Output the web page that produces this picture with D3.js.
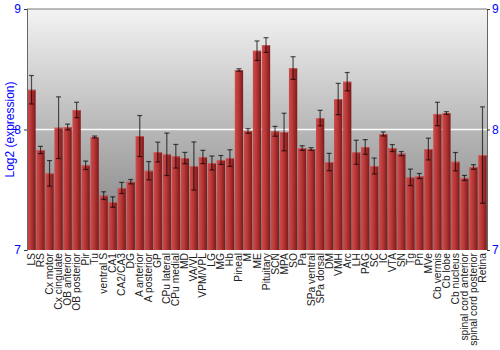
<!DOCTYPE html>
<html>
<head>
<meta charset="utf-8">
<script src="https://cdn.jsdelivr.net/npm/d3@7"></script>
<style>
  body { margin: 0; background: #fff; }
  svg { font-family: "Liberation Sans", Arial, sans-serif; }
</style>
</head>
<body>
<div id="chart"></div>
<script>
// tissues along the x axis
const tissues = ["LS", "RS", "Cx motor", "Cx cingulate", "OB anterior", "OB posterior", "Pir", "Tu",
    "ventral S", "CA1", "CA2/CA3", "DG", "A anterior", "A posterior", "GP", "CPu lateral", "CPu medial",
    "MD", "VA/VL", "VPM/VPL", "LG", "MG", "Hb", "Pineal", "M", "ME", "Pituitary", "SCN", "MPA", "SO",
    "Pa", "SPa ventral", "SPa dorsal", "DM", "VMH", "Arc", "LH", "PAG", "SC", "IC", "VTA", "SN", "Tg",
    "Pn", "MVe", "Cb vermis", "Cb lobe", "Cb nucleus", "spinal cord anterior", "spinal cord posterior", "Retina"];

// mean log2 expression
const expression = [8.33, 7.83, 7.636, 8.015, 8.021, 8.162, 7.703, 7.938,
    7.451, 7.398, 7.515, 7.567, 7.946, 7.658, 7.813, 7.794, 7.778,
    7.763, 7.697, 7.772, 7.722, 7.747, 7.763, 8.494, 7.988, 8.654, 8.701, 7.985, 7.979, 8.51,
    7.846, 7.838, 8.095, 7.73, 8.253, 8.397, 7.811, 7.855, 7.697, 7.963, 7.846, 7.80, 7.603,
    7.614, 7.838, 8.129, 8.137, 7.733, 7.598, 7.689, 7.788];

// error (half length of the bar)
const errors = [0.118, 0.03, 0.106, 0.256, 0.024, 0.064, 0.035, 0.008,
    0.032, 0.043, 0.046, 0.018, 0.17, 0.076, 0.082, 0.176, 0.098,
    0.047, 0.2, 0.055, 0.058, 0.037, 0.069, 0.01, 0.019, 0.081, 0.061, 0.041, 0.156, 0.094,
    0.019, 0.011, 0.064, 0.072, 0.13, 0.076, 0.1, 0.061, 0.066, 0.017, 0.029, 0.017, 0.068,
    0.021, 0.09, 0.097, 0.011, 0.076, 0.021, 0.019, 0.4];

const yTicks = [7, 8, 9];

const data = tissues.map((t, i) => ({ name: t, value: expression[i], err: errors[i] }));

const width = 500, height = 350;
const margin = { top: 9, right: 13, bottom: 100, left: 27 };

const svg = d3.select("#chart").append("svg")
    .attr("width", width)
    .attr("height", height);

const x = d3.scaleBand()
    .domain(tissues)
    .range([margin.left, width - margin.right])
    .paddingInner(0.08)
    .paddingOuter(0.04);

const y = d3.scaleLinear()
    .domain([7, 9])
    .range([height - margin.bottom, margin.top]);

const defs = svg.append("defs");

// grey background gradient
const bg = defs.append("linearGradient")
    .attr("id", "bg").attr("x1", 0).attr("y1", 0).attr("x2", 0).attr("y2", 1);
bg.append("stop").attr("offset", "0%").attr("stop-color", "#f3f3f3");
bg.append("stop").attr("offset", "100%").attr("stop-color", "#7b7b7b");

// bar gradient, light at left, dark at right
const barGrad = defs.append("linearGradient")
    .attr("id", "barGrad").attr("x1", 0).attr("y1", 0).attr("x2", 1).attr("y2", 0);
barGrad.append("stop").attr("offset", "0%").attr("stop-color", "#cc4c4c");
barGrad.append("stop").attr("offset", "45%").attr("stop-color", "#b83636");
barGrad.append("stop").attr("offset", "100%").attr("stop-color", "#7c1a1a");

const plotW = width - margin.left - margin.right;
const plotH = height - margin.top - margin.bottom;

svg.append("rect")
    .attr("x", margin.left)
    .attr("y", margin.top)
    .attr("width", plotW)
    .attr("height", plotH)
    .attr("fill", "url(#bg)");

// white gridline at 8
svg.append("line")
    .attr("x1", margin.left).attr("x2", width - margin.right)
    .attr("y1", y(8)).attr("y2", y(8))
    .attr("stroke", "#fafafa")
    .attr("stroke-width", 1.6);

// top border
svg.append("line")
    .attr("x1", margin.left).attr("x2", width - margin.right)
    .attr("y1", margin.top).attr("y2", margin.top)
    .attr("stroke", "#777");

// bars
svg.append("g")
    .selectAll("rect")
    .data(data)
    .join("rect")
    .attr("x", d => x(d.name))
    .attr("y", d => y(d.value))
    .attr("width", x.bandwidth())
    .attr("height", d => y(7) - y(d.value))
    .attr("fill", "url(#barGrad)");

// light highlight on bar top
svg.append("g")
    .selectAll("line")
    .data(data)
    .join("line")
    .attr("x1", d => x(d.name))
    .attr("x2", d => x(d.name) + x.bandwidth())
    .attr("y1", d => y(d.value) + 0.5)
    .attr("y2", d => y(d.value) + 0.5)
    .attr("stroke", "#d86a6a")
    .attr("stroke-opacity", 0.7);

// error bars
const errG = svg.append("g")
    .attr("stroke", "#000")
    .attr("stroke-opacity", 0.65)
    .attr("stroke-width", 1.2);

errG.selectAll(".stem")
    .data(data)
    .join("line")
    .attr("class", "stem")
    .attr("x1", d => x(d.name) + x.bandwidth() / 2)
    .attr("x2", d => x(d.name) + x.bandwidth() / 2)
    .attr("y1", d => y(d.value + d.err))
    .attr("y2", d => y(d.value - d.err));

errG.selectAll(".capTop")
    .data(data)
    .join("line")
    .attr("class", "capTop")
    .attr("x1", d => x(d.name) + x.bandwidth() / 2 - 2.5)
    .attr("x2", d => x(d.name) + x.bandwidth() / 2 + 2.5)
    .attr("y1", d => y(d.value + d.err))
    .attr("y2", d => y(d.value + d.err));

errG.selectAll(".capBot")
    .data(data)
    .join("line")
    .attr("class", "capBot")
    .attr("x1", d => x(d.name) + x.bandwidth() / 2 - 2.5)
    .attr("x2", d => x(d.name) + x.bandwidth() / 2 + 2.5)
    .attr("y1", d => y(d.value - d.err))
    .attr("y2", d => y(d.value - d.err));

// left and right axes
const leftAxis = svg.append("g")
    .attr("transform", `translate(${margin.left},0)`)
    .call(d3.axisLeft(y).tickValues(yTicks).tickFormat(d3.format("d")).tickSize(3).tickPadding(3));

const rightAxis = svg.append("g")
    .attr("transform", `translate(${width - margin.right},0)`)
    .call(d3.axisRight(y).tickValues(yTicks).tickFormat(d3.format("d")).tickSize(3).tickPadding(2));

[leftAxis, rightAxis].forEach(ax => {
    ax.select(".domain").attr("stroke", "#666");
    ax.selectAll(".tick line").attr("stroke", "#333");
    ax.selectAll(".tick text")
        .attr("fill", "#0000ff")
        .style("font-size", "12px")
        .style("font-family", "'Liberation Sans', Arial, sans-serif");
});

// x labels, rotated
svg.append("g")
    .selectAll("text")
    .data(data)
    .join("text")
    .attr("transform", d => `translate(${x(d.name) + x.bandwidth() / 2 + 3.5},${y(7) + 3}) rotate(-90)`)
    .attr("text-anchor", "end")
    .attr("fill", "#222")
    .style("font-size", "10.3px")
    .text(d => d.name);

// y title
svg.append("text")
    .attr("transform", `translate(${14},${y(8)}) rotate(-90)`)
    .attr("text-anchor", "middle")
    .attr("fill", "#0000ff")
    .style("font-size", "12px")
    .text("Log2 (expression)");
</script>
</body>
</html>
